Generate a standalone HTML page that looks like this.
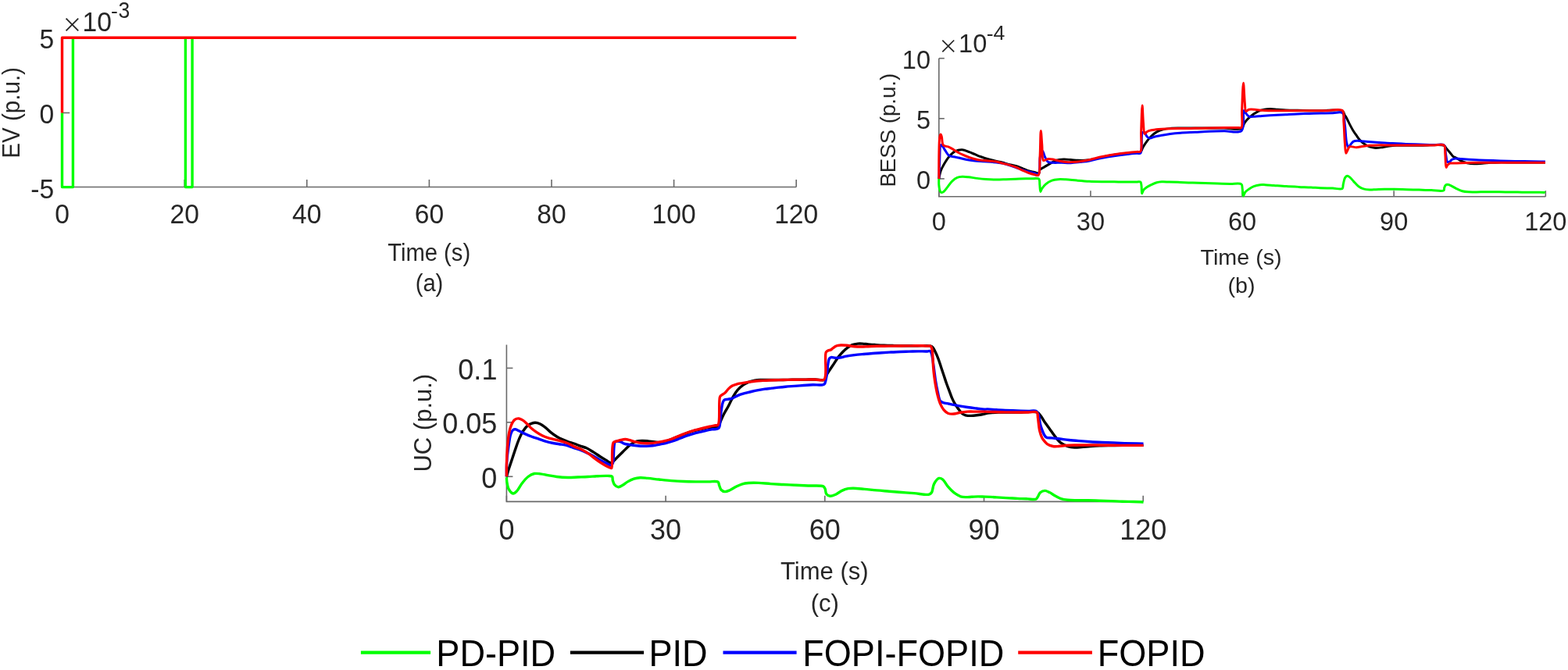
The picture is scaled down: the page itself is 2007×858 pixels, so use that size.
<!DOCTYPE html>
<html><head><meta charset="utf-8"><title>Figure</title>
<style>
html,body{margin:0;padding:0;background:#fff;}
body{width:2007px;height:858px;overflow:hidden;}
svg{display:block;}
</style></head>
<body>
<svg width="2007" height="858" viewBox="0 0 2007 858">
<rect width="2007" height="858" fill="#fff"/>
<g fill="none" stroke="#6a6a6a" stroke-width="1.6" stroke-linecap="butt">
<path d="M79.60 48.30 L79.60 239.55 L1019.20 239.55"/>
<path d="M79.60 239.55 V229.95"/>
<path d="M236.20 239.55 V229.95"/>
<path d="M392.80 239.55 V229.95"/>
<path d="M549.40 239.55 V229.95"/>
<path d="M706.00 239.55 V229.95"/>
<path d="M862.60 239.55 V229.95"/>
<path d="M1019.20 239.55 V229.95"/>
<path d="M79.60 239.60 H89.20"/>
<path d="M79.60 144.50 H89.20"/>
<path d="M79.60 48.30 H89.20"/>
</g>
<path d="M79.5 144.50 V239.60 H93.4 V48.30 M237.4 48.30 V239.60 H246.1 V48.30" fill="none" stroke="#00ff00" stroke-width="3.4" stroke-linejoin="round"/>
<path d="M79.50 144.50 L79.50 48.30 L1019.20 48.30" fill="none" stroke="#ff0000" stroke-width="3.4" stroke-linejoin="round"/>
<g font-family='"Liberation Sans", sans-serif' fill="#262626">
<text transform="translate(79.60 286.30) scale(1 1.045)" font-size="33.60" text-anchor="middle">0</text>
<text transform="translate(236.20 286.30) scale(1 1.045)" font-size="33.60" text-anchor="middle">20</text>
<text transform="translate(392.80 286.30) scale(1 1.045)" font-size="33.60" text-anchor="middle">40</text>
<text transform="translate(549.40 286.30) scale(1 1.045)" font-size="33.60" text-anchor="middle">60</text>
<text transform="translate(706.00 286.30) scale(1 1.045)" font-size="33.60" text-anchor="middle">80</text>
<text transform="translate(862.60 286.30) scale(1 1.045)" font-size="33.60" text-anchor="middle">100</text>
<text transform="translate(1019.20 286.30) scale(1 1.045)" font-size="33.60" text-anchor="middle">120</text>
<text transform="translate(69.20 253.70) scale(1 1.045)" font-size="33.60" text-anchor="end">-5</text>
<text transform="translate(69.20 157.90) scale(1 1.045)" font-size="33.60" text-anchor="end">0</text>
<text transform="translate(69.20 61.90) scale(1 1.045)" font-size="33.60" text-anchor="end">5</text>
<text transform="translate(79.20 41.40)" font-size="26.30" font-family='"Noto Sans CJK JP", "Noto Sans CJK SC", sans-serif'>&#215;</text>
<text transform="translate(105.60 39.90) scale(1 1.045)" font-size="33.60">10</text>
<text transform="translate(142.00 23.10)" font-size="26.50">-</text>
<text transform="translate(151.60 23.10) scale(1 1.130)" font-size="26.50">3</text>
<text transform="translate(549.20 334.00) scale(1 1.050)" font-size="29.20" text-anchor="middle">Time (s)</text>
<text transform="translate(549.50 372.70) scale(1 1.050)" font-size="29.20" text-anchor="middle">(a)</text>
<text transform="translate(24.90 144.40) rotate(-90) scale(1 1.050)" font-size="29.60" text-anchor="middle">EV (p.u.)</text>
</g>
<g fill="none" stroke="#6a6a6a" stroke-width="1.6">
<path d="M1201.80 74.70 L1201.80 251.80 L1978.30 251.80"/>
<path d="M1201.80 251.80 V244.20"/>
<path d="M1395.92 251.80 V244.20"/>
<path d="M1590.05 251.80 V244.20"/>
<path d="M1784.17 251.80 V244.20"/>
<path d="M1978.30 251.80 V244.20"/>
<path d="M1201.80 228.90 H1208.80"/>
<path d="M1201.80 151.80 H1208.80"/>
<path d="M1201.80 74.70 H1208.80"/>
</g>
<path d="M1201.80 228.90 C1201.80 228.83 1201.80 228.70 1201.80 228.70 C1201.80 228.70 1201.59 234.09 1201.80 236.67 C1202.00 239.13 1202.25 242.08 1202.97 243.85 C1203.46 245.04 1204.07 246.31 1204.89 246.56 C1205.67 246.79 1206.77 246.14 1207.76 245.44 C1209.28 244.36 1210.85 241.90 1212.54 239.86 C1214.53 237.45 1216.63 234.04 1218.92 231.89 C1220.92 230.01 1223.06 228.35 1225.29 227.42 C1227.33 226.58 1229.42 226.44 1231.67 226.31 C1234.17 226.17 1236.77 226.49 1239.64 226.79 C1243.06 227.13 1247.08 227.93 1250.80 228.38 C1254.52 228.83 1258.12 229.23 1261.96 229.50 C1266.07 229.78 1270.47 229.95 1274.72 229.97 C1278.97 230.00 1283.22 229.79 1287.47 229.66 C1291.73 229.52 1295.98 229.34 1300.23 229.18 C1304.48 229.02 1309.04 228.77 1312.98 228.70 C1316.40 228.63 1319.59 228.63 1322.55 228.70 C1325.11 228.76 1328.33 227.76 1329.73 229.02 C1331.17 230.33 1330.51 234.03 1330.84 236.67 C1331.20 239.49 1331.14 245.33 1331.80 245.44 C1332.27 245.52 1332.81 242.83 1333.71 241.45 C1334.87 239.68 1336.54 237.53 1338.49 235.87 C1340.69 234.02 1343.71 232.13 1346.47 231.09 C1349.04 230.12 1351.65 229.88 1354.44 229.66 C1357.47 229.41 1360.50 229.63 1364.01 229.82 C1368.31 230.04 1373.44 230.70 1378.35 231.09 C1383.53 231.50 1388.98 231.94 1394.30 232.21 C1399.61 232.47 1404.93 232.58 1410.24 232.68 C1415.56 232.79 1420.87 232.79 1426.19 232.84 C1431.50 232.90 1437.10 232.98 1442.13 233.00 C1446.65 233.03 1451.75 233.00 1455.00 233.00 C1456.98 233.00 1458.77 232.21 1459.78 233.00 C1460.86 233.85 1460.75 236.24 1461.06 238.27 C1461.47 240.97 1461.07 247.72 1461.70 247.83 C1462.16 247.91 1462.75 244.38 1463.77 243.05 C1464.78 241.73 1466.22 240.88 1467.76 239.86 C1469.59 238.64 1471.98 237.37 1474.13 236.35 C1476.23 235.36 1478.35 234.39 1480.51 233.80 C1482.60 233.23 1484.54 233.00 1486.89 232.84 C1489.75 232.66 1492.94 232.92 1496.45 233.00 C1500.75 233.11 1505.89 233.30 1510.80 233.48 C1515.98 233.67 1521.43 233.93 1526.75 234.12 C1532.06 234.31 1537.38 234.44 1542.69 234.60 C1548.01 234.76 1553.32 234.92 1558.64 235.08 C1563.95 235.24 1569.40 235.42 1574.58 235.55 C1579.49 235.68 1586.66 234.03 1588.93 235.87 C1590.36 237.04 1589.84 239.33 1590.20 241.45 C1590.68 244.20 1590.55 250.88 1591.32 251.02 C1591.90 251.12 1592.59 247.66 1593.71 246.24 C1594.93 244.71 1596.73 243.48 1598.49 242.25 C1600.42 240.91 1602.56 239.51 1604.87 238.58 C1607.32 237.61 1610.32 236.97 1612.84 236.67 C1615.07 236.41 1616.80 236.58 1619.22 236.67 C1622.43 236.79 1626.33 237.18 1630.38 237.47 C1635.22 237.81 1641.01 238.27 1646.33 238.58 C1651.64 238.90 1656.96 239.14 1662.27 239.38 C1667.58 239.62 1673.30 239.77 1678.21 240.02 C1682.44 240.23 1685.78 240.58 1690.00 240.75 C1694.88 240.95 1700.86 240.92 1705.80 241.07 C1710.16 241.20 1716.15 243.07 1718.12 241.54 C1719.41 240.53 1718.75 238.28 1719.22 236.33 C1719.84 233.79 1720.38 229.52 1721.59 227.64 C1722.37 226.44 1723.40 225.37 1724.43 225.27 C1725.50 225.17 1726.74 226.25 1727.91 227.17 C1729.47 228.39 1730.93 230.58 1732.65 232.38 C1734.58 234.41 1736.72 237.08 1738.97 238.70 C1740.96 240.14 1743.00 241.15 1745.28 241.86 C1747.71 242.61 1750.54 242.83 1753.18 242.96 C1755.81 243.09 1758.23 242.77 1761.08 242.65 C1764.46 242.51 1768.33 242.23 1772.14 242.17 C1776.21 242.11 1780.33 242.26 1784.77 242.33 C1789.74 242.41 1795.30 242.52 1800.57 242.65 C1805.83 242.78 1811.10 242.96 1816.36 243.12 C1821.63 243.28 1826.89 243.46 1832.16 243.60 C1837.42 243.73 1845.87 245.56 1847.95 243.91 C1848.96 243.11 1848.34 241.42 1848.74 240.28 C1849.14 239.16 1849.57 237.77 1850.32 237.12 C1850.95 236.57 1851.77 236.33 1852.69 236.33 C1854.00 236.33 1855.77 237.18 1857.43 237.91 C1859.42 238.78 1861.49 240.29 1863.75 241.38 C1866.20 242.57 1868.96 243.96 1871.65 244.70 C1874.23 245.41 1876.45 245.59 1879.54 245.81 C1883.90 246.11 1890.07 245.81 1895.34 245.81 C1900.60 245.81 1905.87 245.78 1911.13 245.81 C1916.40 245.83 1921.66 245.91 1926.93 245.96 C1932.19 246.02 1937.46 246.07 1942.72 246.12 C1947.99 246.17 1953.02 246.23 1958.52 246.28 C1964.55 246.34 1975.87 246.01 1977.47 246.44 C1977.72 246.51 1977.74 246.59 1977.88 246.67" fill="none" stroke="#00ff00" stroke-width="3.0" stroke-linejoin="round" stroke-linecap="butt"/>
<path d="M1201.80 228.90 C1202.56 225.58 1202.95 222.12 1204.09 218.94 C1205.23 215.77 1206.91 212.83 1208.64 209.85 C1210.43 206.76 1212.37 203.44 1214.70 200.76 C1216.94 198.16 1219.42 195.46 1222.27 193.94 C1225.00 192.49 1228.35 191.55 1231.36 191.67 C1234.41 191.78 1237.58 193.64 1240.45 194.70 C1243.11 195.67 1245.51 196.72 1248.03 197.73 C1250.56 198.74 1252.95 199.78 1255.61 200.76 C1258.48 201.81 1261.65 202.90 1264.70 203.79 C1267.71 204.67 1270.75 205.35 1273.79 206.06 C1276.81 206.77 1279.86 207.28 1282.88 208.03 C1285.92 208.79 1288.93 209.85 1291.97 210.61 C1294.99 211.36 1298.20 211.70 1301.06 212.58 C1303.74 213.39 1306.11 214.60 1308.64 215.61 C1311.16 216.62 1313.66 217.82 1316.21 218.64 C1318.71 219.43 1321.40 219.87 1323.79 220.45 C1325.92 220.98 1328.66 222.67 1329.85 221.97 C1330.88 221.36 1330.10 218.72 1331.06 217.42 C1332.24 215.83 1334.98 214.95 1337.12 213.64 C1339.50 212.18 1342.14 210.49 1344.70 209.09 C1347.20 207.72 1349.56 206.14 1352.27 205.30 C1355.10 204.44 1358.33 204.22 1361.36 204.09 C1364.39 203.97 1367.43 204.34 1370.45 204.55 C1373.49 204.75 1376.51 205.18 1379.55 205.30 C1382.57 205.43 1385.40 205.50 1388.64 205.30 C1392.39 205.07 1396.52 204.58 1400.76 203.79 C1405.55 202.89 1410.84 201.06 1415.91 200.00 C1420.94 198.95 1426.00 198.11 1431.06 197.42 C1436.10 196.74 1441.29 196.37 1446.21 195.91 C1450.88 195.47 1457.13 196.55 1459.85 194.70 C1461.76 193.39 1461.66 190.75 1462.88 188.64 C1464.31 186.15 1466.21 183.22 1468.05 180.78 C1469.81 178.45 1471.53 176.24 1473.65 174.25 C1475.86 172.18 1478.52 170.08 1481.11 168.66 C1483.50 167.35 1485.90 166.57 1488.57 165.86 C1491.47 165.10 1494.51 164.69 1497.89 164.37 C1501.87 164.00 1506.21 164.07 1510.94 164.00 C1516.61 163.92 1523.38 164.00 1529.59 164.00 C1535.81 164.00 1542.02 164.00 1548.24 164.00 C1554.46 164.00 1560.39 163.94 1566.89 164.00 C1574.01 164.06 1585.17 166.76 1589.27 164.37 C1591.69 162.95 1591.49 159.66 1593.00 157.47 C1594.57 155.18 1596.20 153.11 1598.59 150.94 C1601.73 148.09 1607.05 144.22 1610.76 142.42 C1613.47 141.11 1615.78 140.63 1618.33 140.15 C1620.83 139.68 1623.27 139.56 1625.91 139.55 C1628.80 139.53 1631.85 139.93 1635.00 140.15 C1638.40 140.39 1641.75 140.71 1645.61 140.91 C1650.21 141.14 1655.71 141.24 1660.76 141.36 C1665.81 141.49 1670.86 141.59 1675.91 141.67 C1680.96 141.74 1685.27 141.77 1691.06 141.82 C1698.83 141.88 1713.96 139.31 1718.33 141.97 C1720.47 143.27 1720.53 146.45 1721.36 147.73 C1721.82 148.42 1722.09 148.49 1722.58 149.24 C1723.68 150.97 1725.58 155.38 1727.12 158.33 C1728.61 161.19 1730.09 164.06 1731.67 166.67 C1733.13 169.09 1734.67 171.30 1736.21 173.48 C1737.70 175.59 1739.02 177.68 1740.76 179.55 C1742.55 181.47 1744.70 183.43 1746.82 184.85 C1748.76 186.15 1750.69 187.13 1752.88 187.88 C1755.21 188.68 1757.80 189.24 1760.45 189.39 C1763.34 189.56 1766.52 189.01 1769.55 188.64 C1772.58 188.26 1775.60 187.50 1778.64 187.12 C1781.66 186.74 1784.17 186.53 1787.73 186.36 C1792.74 186.13 1800.12 186.24 1805.91 186.21 C1811.19 186.19 1815.27 186.20 1821.06 186.21 C1828.83 186.23 1843.95 184.24 1848.33 186.36 C1850.18 187.26 1850.24 188.79 1851.36 190.15 C1852.71 191.78 1854.39 193.69 1855.91 195.45 C1857.42 197.22 1859.08 199.83 1860.45 200.76 C1861.26 201.30 1861.78 201.08 1862.73 201.52 C1864.55 202.35 1867.72 204.83 1870.30 206.06 C1872.77 207.23 1875.20 208.16 1877.88 208.79 C1880.73 209.46 1883.82 209.76 1886.97 209.85 C1890.36 209.95 1894.04 209.49 1897.58 209.24 C1901.11 208.99 1904.64 208.56 1908.18 208.33 C1911.71 208.11 1914.71 207.95 1918.79 207.88 C1924.34 207.78 1930.79 208.00 1938.48 208.03 C1949.36 208.07 1964.75 208.03 1977.88 208.03" fill="none" stroke="#000000" stroke-width="3.0" stroke-linejoin="round" stroke-linecap="butt"/>
<path d="M1201.80 228.90 C1202.06 222.55 1202.19 216.58 1202.58 209.85 C1203.02 202.25 1202.69 186.37 1204.39 185.61 C1204.94 185.36 1205.67 186.36 1206.36 187.12 C1207.53 188.41 1208.79 191.19 1210.15 193.18 C1211.56 195.23 1212.81 197.99 1214.70 199.24 C1216.41 200.38 1218.62 200.28 1220.76 200.76 C1223.14 201.29 1225.70 201.68 1228.33 202.27 C1231.23 202.92 1234.26 203.93 1237.42 204.55 C1240.81 205.21 1244.49 205.68 1248.03 206.06 C1251.56 206.44 1254.98 206.57 1258.64 206.82 C1262.54 207.08 1266.72 207.20 1270.76 207.58 C1274.80 207.95 1279.00 208.30 1282.88 209.09 C1286.56 209.84 1289.97 210.99 1293.48 212.12 C1297.04 213.26 1300.69 214.73 1304.09 215.91 C1307.23 216.99 1310.13 218.05 1313.18 218.94 C1316.20 219.82 1319.46 220.55 1322.27 221.21 C1324.70 221.79 1327.48 223.89 1329.09 222.73 C1331.95 220.67 1330.04 206.11 1331.36 200.76 C1332.17 197.50 1333.38 193.18 1334.39 193.18 C1335.40 193.18 1336.21 198.35 1337.42 200.76 C1338.63 203.15 1339.77 206.36 1341.67 207.58 C1343.32 208.63 1345.42 208.19 1347.73 208.33 C1350.77 208.52 1354.68 208.29 1358.33 208.33 C1362.24 208.38 1366.42 208.76 1370.45 208.64 C1374.50 208.51 1378.54 208.00 1382.58 207.58 C1386.62 207.15 1390.68 206.81 1394.70 206.06 C1398.76 205.30 1402.76 203.92 1406.82 203.03 C1410.85 202.15 1414.89 201.44 1418.94 200.76 C1422.97 200.08 1427.02 199.50 1431.06 198.94 C1435.10 198.38 1439.14 197.88 1443.18 197.42 C1447.22 196.97 1452.23 196.37 1455.30 196.21 C1457.18 196.12 1458.69 197.28 1459.85 196.21 C1462.62 193.68 1460.18 173.73 1462.12 170.45 C1462.75 169.39 1463.63 168.77 1464.39 168.94 C1465.63 169.21 1466.74 173.62 1468.18 175.00 C1469.28 176.05 1470.42 176.92 1471.78 177.05 C1473.41 177.21 1475.26 175.75 1477.38 175.19 C1480.07 174.47 1483.45 173.92 1486.70 173.32 C1490.26 172.67 1494.01 171.97 1497.89 171.46 C1502.07 170.90 1506.20 170.51 1510.94 170.15 C1516.60 169.73 1523.38 169.53 1529.59 169.22 C1535.81 168.91 1542.02 168.54 1548.24 168.29 C1554.45 168.04 1560.39 167.88 1566.89 167.73 C1574.01 167.56 1584.98 171.26 1589.27 167.35 C1593.87 163.15 1590.24 142.12 1592.06 141.62 C1592.84 141.41 1593.81 144.14 1594.86 145.35 C1595.97 146.63 1596.95 148.38 1598.59 149.08 C1600.56 149.92 1603.56 149.32 1606.21 149.24 C1609.11 149.15 1611.89 148.75 1615.30 148.48 C1619.71 148.15 1625.40 147.73 1630.45 147.42 C1635.50 147.12 1640.56 146.92 1645.61 146.67 C1650.66 146.41 1655.71 146.11 1660.76 145.91 C1665.81 145.71 1670.86 145.61 1675.91 145.45 C1680.96 145.30 1686.01 145.13 1691.06 145.00 C1696.11 144.87 1701.44 144.74 1706.21 144.70 C1710.48 144.65 1715.77 142.60 1718.33 144.70 C1721.23 147.07 1720.53 154.27 1721.36 159.85 C1722.38 166.64 1722.44 177.47 1723.64 182.58 C1724.27 185.30 1724.93 188.48 1725.91 188.64 C1726.75 188.77 1727.87 186.09 1728.94 184.85 C1730.04 183.57 1730.98 181.82 1732.42 181.06 C1733.90 180.29 1735.80 180.34 1737.73 180.30 C1740.03 180.25 1742.66 180.82 1745.30 181.06 C1748.19 181.33 1751.25 181.57 1754.39 181.82 C1757.79 182.08 1761.46 182.32 1765.00 182.58 C1768.54 182.83 1771.95 183.13 1775.61 183.33 C1779.51 183.55 1783.69 183.61 1787.73 183.79 C1791.77 183.96 1795.81 184.22 1799.85 184.39 C1803.89 184.57 1807.93 184.72 1811.97 184.85 C1816.01 184.97 1820.05 185.03 1824.09 185.15 C1828.13 185.28 1832.17 185.48 1836.21 185.61 C1840.25 185.73 1845.94 183.88 1848.33 185.91 C1850.72 187.93 1849.81 193.97 1850.61 197.73 C1851.33 201.17 1851.44 206.69 1852.88 207.58 C1853.68 208.07 1855.03 207.32 1855.91 206.82 C1856.80 206.31 1857.21 205.15 1858.18 204.55 C1859.37 203.81 1860.99 203.26 1862.73 203.03 C1864.91 202.74 1867.35 203.29 1870.30 203.48 C1874.49 203.76 1880.40 204.24 1885.45 204.55 C1890.50 204.85 1895.55 205.10 1900.61 205.30 C1905.66 205.50 1910.71 205.61 1915.76 205.76 C1920.81 205.91 1925.86 206.09 1930.91 206.21 C1935.96 206.34 1941.01 206.41 1946.06 206.52 C1951.11 206.62 1956.04 206.72 1961.21 206.82 C1966.64 206.92 1972.32 207.02 1977.88 207.12" fill="none" stroke="#0000ff" stroke-width="3.0" stroke-linejoin="round" stroke-linecap="butt"/>
<path d="M1201.80 228.90 C1201.81 219.52 1201.63 209.93 1201.82 200.76 C1202.00 191.98 1201.95 179.35 1202.88 175.00 C1203.21 173.45 1203.69 171.97 1204.09 171.97 C1204.49 171.97 1204.92 173.66 1205.30 175.00 C1205.99 177.44 1205.75 183.76 1207.12 185.61 C1207.89 186.64 1209.01 186.69 1210.15 187.12 C1211.49 187.63 1213.11 187.70 1214.70 188.33 C1216.62 189.10 1218.75 190.49 1220.76 191.67 C1222.79 192.86 1224.77 194.31 1226.82 195.45 C1228.81 196.57 1230.72 197.52 1232.88 198.48 C1235.24 199.55 1237.91 200.63 1240.45 201.52 C1242.96 202.39 1245.49 203.15 1248.03 203.79 C1250.54 204.41 1252.95 204.93 1255.61 205.30 C1258.49 205.71 1261.67 205.81 1264.70 206.06 C1267.73 206.31 1270.78 206.32 1273.79 206.82 C1276.84 207.32 1279.85 208.33 1282.88 209.09 C1285.91 209.85 1288.96 210.49 1291.97 211.36 C1295.02 212.25 1298.21 213.21 1301.06 214.39 C1303.74 215.50 1306.09 217.04 1308.64 218.18 C1311.14 219.31 1313.67 220.32 1316.21 221.21 C1318.72 222.09 1321.47 222.97 1323.79 223.48 C1325.70 223.90 1327.79 225.28 1329.09 224.24 C1331.81 222.07 1330.55 209.28 1331.06 200.76 C1331.67 190.62 1331.71 167.44 1332.27 167.42 C1332.69 167.41 1333.29 179.42 1333.79 185.61 C1334.30 192.04 1333.65 203.77 1335.30 205.30 C1335.80 205.77 1336.40 205.44 1337.12 205.30 C1338.31 205.07 1340.01 203.72 1341.67 203.48 C1343.51 203.22 1345.61 203.71 1347.73 204.09 C1350.13 204.52 1352.65 205.50 1355.30 206.06 C1358.18 206.67 1361.35 207.32 1364.39 207.58 C1367.41 207.83 1370.46 207.70 1373.48 207.58 C1376.52 207.45 1379.55 207.20 1382.58 206.82 C1385.61 206.44 1388.65 205.93 1391.67 205.30 C1394.71 204.67 1397.73 203.79 1400.76 203.03 C1403.79 202.27 1406.81 201.44 1409.85 200.76 C1412.87 200.08 1415.90 199.50 1418.94 198.94 C1421.97 198.38 1425.00 197.88 1428.03 197.42 C1431.06 196.97 1434.09 196.59 1437.12 196.21 C1440.15 195.83 1443.18 195.45 1446.21 195.15 C1449.24 194.85 1452.79 194.62 1455.30 194.39 C1457.08 194.23 1458.76 195.11 1459.85 193.94 C1462.37 191.24 1460.27 178.41 1460.59 169.59 C1460.98 159.09 1461.56 135.10 1462.09 135.09 C1462.50 135.09 1462.79 150.05 1463.39 156.54 C1463.90 161.97 1463.84 170.97 1465.26 171.46 C1465.98 171.71 1466.85 169.40 1468.05 168.66 C1469.52 167.75 1471.52 167.29 1473.65 166.79 C1476.34 166.16 1479.86 165.80 1482.97 165.49 C1486.07 165.18 1488.65 165.08 1492.30 164.93 C1497.44 164.72 1504.73 164.65 1510.94 164.56 C1517.16 164.46 1523.38 164.46 1529.59 164.37 C1535.81 164.28 1542.02 164.12 1548.24 164.00 C1554.46 163.87 1560.67 163.72 1566.89 163.62 C1573.10 163.53 1581.83 163.46 1585.54 163.44 C1587.11 163.43 1588.06 164.24 1588.89 163.44 C1591.01 161.39 1589.29 149.77 1589.64 141.62 C1590.09 131.23 1590.83 106.20 1591.50 106.19 C1592.08 106.18 1592.64 125.60 1593.37 132.30 C1593.82 136.51 1593.50 141.91 1594.86 142.55 C1595.74 142.97 1597.00 140.74 1598.59 140.31 C1600.90 139.69 1604.83 140.26 1607.73 140.45 C1610.38 140.63 1612.66 141.16 1615.30 141.36 C1618.19 141.58 1621.06 141.61 1624.39 141.67 C1628.48 141.73 1633.37 141.67 1638.03 141.67 C1642.95 141.67 1648.13 141.67 1653.18 141.67 C1658.23 141.67 1663.28 141.67 1668.33 141.67 C1673.38 141.67 1678.43 141.67 1683.48 141.67 C1688.54 141.67 1693.26 141.67 1698.64 141.67 C1704.77 141.67 1715.02 138.70 1718.33 141.67 C1721.10 144.14 1719.40 149.97 1719.85 155.30 C1720.48 162.83 1720.74 175.05 1721.36 182.58 C1721.81 187.91 1721.91 196.04 1722.88 196.21 C1723.47 196.32 1724.37 193.10 1725.15 191.67 C1725.88 190.33 1726.12 188.54 1727.42 187.88 C1729.27 186.94 1733.40 188.74 1736.21 188.64 C1738.84 188.54 1741.14 187.79 1743.79 187.42 C1746.68 187.02 1749.73 186.61 1752.88 186.36 C1756.27 186.09 1759.83 185.99 1763.48 185.91 C1767.39 185.83 1771.34 185.89 1775.61 185.91 C1780.38 185.93 1785.71 186.04 1790.76 186.06 C1795.81 186.09 1800.86 186.06 1805.91 186.06 C1810.96 186.06 1816.01 186.06 1821.06 186.06 C1826.11 186.06 1831.44 186.06 1836.21 186.06 C1840.48 186.06 1846.07 184.07 1848.33 186.06 C1850.56 188.02 1849.42 193.49 1849.85 197.73 C1850.36 202.78 1850.03 214.15 1851.06 214.39 C1851.53 214.51 1852.09 212.24 1852.88 211.36 C1853.69 210.46 1854.77 209.47 1855.91 209.09 C1857.05 208.71 1858.12 209.12 1859.70 209.09 C1862.34 209.03 1866.45 208.76 1870.30 208.64 C1874.90 208.49 1880.40 208.38 1885.45 208.33 C1890.50 208.28 1895.56 208.33 1900.61 208.33 C1905.66 208.33 1910.71 208.33 1915.76 208.33 C1920.81 208.33 1925.86 208.33 1930.91 208.33 C1935.96 208.33 1941.01 208.33 1946.06 208.33 C1951.11 208.33 1956.04 208.33 1961.21 208.33 C1966.64 208.33 1972.32 208.33 1977.88 208.33" fill="none" stroke="#ff0000" stroke-width="3.0" stroke-linejoin="round" stroke-linecap="butt"/>
<g font-family='"Liberation Sans", sans-serif' fill="#262626">
<text transform="translate(1201.80 294.70) scale(1 1.030)" font-size="32.50" text-anchor="middle">0</text>
<text transform="translate(1395.92 294.70) scale(1 1.030)" font-size="32.50" text-anchor="middle">30</text>
<text transform="translate(1590.05 294.70) scale(1 1.030)" font-size="32.50" text-anchor="middle">60</text>
<text transform="translate(1784.17 294.70) scale(1 1.030)" font-size="32.50" text-anchor="middle">90</text>
<text transform="translate(1978.30 294.70) scale(1 1.030)" font-size="32.50" text-anchor="middle">120</text>
<text transform="translate(1191.00 242.10) scale(1 1.030)" font-size="32.50" text-anchor="end">0</text>
<text transform="translate(1191.00 165.00) scale(1 1.030)" font-size="32.50" text-anchor="end">5</text>
<text transform="translate(1191.00 87.90) scale(1 1.030)" font-size="32.50" text-anchor="end">10</text>
<text transform="translate(1201.30 68.00)" font-size="25.00" font-family='"Noto Sans CJK JP", "Noto Sans CJK SC", sans-serif'>&#215;</text>
<text transform="translate(1227.10 66.70) scale(1 1.030)" font-size="32.50">10</text>
<text transform="translate(1262.70 52.30)" font-size="26.60">-</text>
<text transform="translate(1271.56 51.40)" font-size="26.60">4</text>
<text transform="translate(1588.60 338.70) scale(1 0.980)" font-size="28.70" text-anchor="middle">Time (s)</text>
<text transform="translate(1589.10 374.80) scale(1 0.980)" font-size="28.70" text-anchor="middle">(b)</text>
<text transform="translate(1145.50 166.70) rotate(-90)" font-size="27.60" text-anchor="middle">BESS (p.u.)</text>
</g>
<g fill="none" stroke="#6a6a6a" stroke-width="1.6">
<path d="M648.40 441.40 L648.40 642.40 L1463.20 642.40"/>
<path d="M648.40 642.40 V634.80"/>
<path d="M852.10 642.40 V634.80"/>
<path d="M1055.80 642.40 V634.80"/>
<path d="M1259.50 642.40 V634.80"/>
<path d="M1463.20 642.40 V634.80"/>
<path d="M648.40 610.30 H656.40"/>
<path d="M648.40 540.85 H656.40"/>
<path d="M648.40 471.40 H656.40"/>
</g>
<path d="M648.40 610.30 C648.40 610.26 648.40 610.19 648.40 610.19 C648.41 610.19 648.42 614.48 648.78 616.89 C649.23 619.81 649.70 623.85 651.17 626.45 C652.49 628.78 654.89 631.85 656.76 632.03 C658.35 632.19 659.98 630.40 661.54 628.85 C663.74 626.64 665.55 622.31 667.92 619.28 C670.32 616.20 673.01 612.69 675.89 610.51 C678.38 608.62 681.12 607.11 683.86 606.52 C686.45 605.97 689.06 606.54 691.83 606.84 C694.89 607.18 698.08 608.01 701.40 608.60 C704.97 609.23 708.59 610.04 712.56 610.51 C717.03 611.04 722.26 611.40 726.91 611.47 C731.28 611.53 735.41 611.15 739.66 610.99 C743.91 610.83 748.17 610.72 752.42 610.51 C756.67 610.30 760.92 609.90 765.17 609.71 C769.42 609.53 774.55 609.20 777.93 609.39 C780.17 609.53 782.46 609.15 783.51 610.19 C784.52 611.18 783.82 613.59 784.31 615.29 C784.84 617.15 785.46 619.45 786.70 620.87 C787.89 622.23 789.79 623.63 791.48 623.74 C793.24 623.86 795.19 622.39 797.06 621.35 C799.18 620.17 801.13 618.21 803.44 616.89 C805.89 615.48 808.70 614.07 811.41 613.22 C814.02 612.40 816.59 611.94 819.38 611.79 C822.42 611.62 825.44 612.11 828.95 612.42 C833.25 612.81 838.39 613.50 843.30 614.02 C848.47 614.56 853.92 615.19 859.24 615.61 C864.55 616.04 869.87 616.36 875.19 616.57 C880.50 616.78 885.82 616.83 891.13 616.89 C896.44 616.94 902.14 616.82 907.07 616.89 C911.35 616.94 916.97 615.71 919.03 617.21 C920.33 618.15 920.01 620.11 920.63 621.67 C921.32 623.44 921.76 625.91 923.02 627.25 C924.20 628.51 926.06 629.49 927.80 629.64 C929.74 629.81 931.99 628.66 934.18 627.73 C936.75 626.64 939.46 624.61 942.15 623.27 C944.78 621.96 947.41 620.56 950.12 619.76 C952.73 618.99 955.12 618.73 958.09 618.48 C961.83 618.17 966.33 618.21 970.80 618.37 C975.82 618.55 981.43 619.30 986.75 619.64 C992.06 619.99 997.38 620.17 1002.69 620.44 C1008.01 620.71 1013.32 620.97 1018.64 621.24 C1023.95 621.50 1029.02 621.78 1034.58 622.03 C1040.67 622.31 1050.51 621.15 1053.71 622.83 C1055.17 623.60 1055.47 624.70 1056.10 626.02 C1056.91 627.72 1056.54 630.84 1057.70 632.40 C1058.76 633.83 1060.67 635.03 1062.48 635.27 C1064.58 635.54 1067.27 634.23 1069.66 633.20 C1072.32 632.04 1074.90 629.68 1077.63 628.41 C1080.22 627.21 1083.06 626.22 1085.60 625.70 C1087.81 625.25 1089.43 625.22 1091.98 625.22 C1095.80 625.23 1101.42 625.90 1106.33 626.34 C1111.50 626.80 1116.95 627.46 1122.27 627.93 C1127.58 628.41 1132.90 628.78 1138.21 629.21 C1143.53 629.63 1148.84 630.09 1154.16 630.48 C1159.47 630.88 1164.55 631.17 1170.10 631.60 C1176.19 632.07 1185.64 634.23 1189.23 633.20 C1190.87 632.72 1191.52 632.11 1192.42 630.80 C1193.96 628.57 1193.88 622.79 1195.61 619.64 C1197.19 616.78 1199.82 613.05 1201.99 612.47 C1203.56 612.05 1205.24 612.94 1206.77 614.06 C1209.03 615.71 1210.79 620.07 1213.15 622.83 C1215.56 625.65 1218.50 628.71 1221.12 630.80 C1223.27 632.51 1225.98 633.90 1227.50 634.79 C1228.33 635.27 1228.57 635.57 1229.44 635.85 C1230.92 636.33 1233.57 636.57 1235.82 636.65 C1238.33 636.74 1241.14 636.38 1243.80 636.25 C1246.45 636.12 1249.11 635.88 1251.77 635.85 C1254.43 635.83 1257.09 636.00 1259.74 636.09 C1262.40 636.19 1265.06 636.28 1267.72 636.41 C1270.38 636.54 1273.04 636.73 1275.69 636.89 C1278.35 637.05 1281.01 637.21 1283.67 637.37 C1286.33 637.53 1288.98 637.70 1291.64 637.85 C1294.30 637.99 1296.96 638.11 1299.62 638.25 C1302.28 638.38 1304.93 638.54 1307.59 638.64 C1310.25 638.75 1312.73 638.80 1315.57 638.88 C1318.80 638.98 1323.81 640.17 1325.93 639.20 C1327.22 638.61 1327.52 637.43 1328.33 636.25 C1329.37 634.72 1329.99 631.99 1331.52 630.67 C1333.04 629.36 1335.51 628.37 1337.49 628.36 C1339.44 628.35 1341.31 629.58 1343.32 630.55 C1345.66 631.68 1348.15 633.57 1350.60 634.92 C1353.00 636.24 1355.28 637.67 1357.89 638.56 C1360.61 639.50 1363.49 639.94 1366.63 640.31 C1370.22 640.73 1374.18 640.67 1378.29 640.75 C1382.87 640.83 1388.00 640.67 1392.86 640.75 C1397.72 640.82 1402.57 641.04 1407.43 641.18 C1412.29 641.33 1417.15 641.45 1422.00 641.62 C1426.86 641.79 1431.72 642.06 1436.58 642.20 C1441.43 642.35 1446.49 642.37 1451.15 642.50 C1455.44 642.61 1459.40 642.79 1463.53 642.93" fill="none" stroke="#00ff00" stroke-width="3.4" stroke-linejoin="round"/>
<path d="M648.40 610.30 C649.49 606.64 650.46 603.13 651.66 599.32 C652.98 595.13 654.57 590.57 656.03 586.20 C657.49 581.83 658.90 577.32 660.40 573.09 C661.82 569.07 663.22 565.00 664.77 561.43 C666.15 558.27 667.42 555.38 669.14 552.69 C670.83 550.05 672.84 547.20 674.97 545.40 C676.78 543.88 678.95 542.87 680.80 542.19 C682.32 541.64 683.62 541.28 685.17 541.32 C686.98 541.36 689.03 541.91 691.00 542.78 C693.38 543.82 695.93 545.76 698.29 547.59 C700.79 549.52 703.08 552.16 705.57 554.14 C707.95 556.03 710.38 557.76 712.86 559.24 C715.24 560.66 717.69 561.79 720.15 562.89 C722.55 563.97 724.98 564.95 727.43 565.80 C729.84 566.64 732.31 567.15 734.72 567.99 C737.17 568.84 739.45 569.97 742.00 570.90 C744.77 571.92 747.90 572.53 750.75 573.82 C753.73 575.17 756.60 577.11 759.49 578.92 C762.43 580.75 765.43 582.97 768.23 584.74 C770.75 586.34 773.14 587.74 775.52 589.12 C777.75 590.41 780.46 592.78 782.08 592.76 C783.04 592.75 783.48 592.09 784.37 591.40 C785.93 590.19 788.26 587.52 790.20 585.57 C792.14 583.63 794.09 581.69 796.03 579.74 C797.97 577.80 799.88 575.76 801.86 573.92 C803.77 572.13 805.53 570.26 807.69 568.82 C809.89 567.33 812.48 565.90 814.97 565.17 C817.34 564.49 819.83 564.49 822.26 564.44 C824.69 564.40 827.01 564.66 829.54 564.88 C832.33 565.13 835.50 565.66 838.29 565.90 C840.82 566.13 843.16 566.51 845.57 566.34 C848.01 566.17 850.46 565.55 852.86 564.88 C855.31 564.20 857.73 563.18 860.15 562.26 C862.58 561.33 865.00 560.32 867.43 559.34 C869.86 558.37 872.29 557.40 874.72 556.43 C877.15 555.46 879.56 554.37 882.00 553.52 C884.41 552.67 886.85 551.94 889.29 551.33 C891.70 550.73 894.15 550.43 896.58 549.87 C899.01 549.31 901.42 548.47 903.86 547.98 C906.28 547.50 908.61 547.35 911.15 546.96 C913.93 546.53 918.49 546.64 919.89 545.50 C920.65 544.88 920.36 544.19 920.83 543.06 C921.92 540.42 924.61 533.99 926.66 529.95 C928.51 526.28 930.59 523.29 932.49 519.74 C934.48 516.02 936.26 511.64 938.32 508.09 C940.16 504.90 941.91 501.93 944.14 499.34 C946.30 496.85 948.88 494.53 951.43 492.79 C953.76 491.20 956.24 490.07 958.72 489.14 C961.10 488.25 963.56 487.69 966.00 487.25 C968.41 486.82 970.57 486.66 973.29 486.52 C976.72 486.35 981.06 486.52 984.95 486.52 C988.83 486.52 992.72 486.55 996.60 486.52 C1000.49 486.50 1004.37 486.42 1008.26 486.38 C1012.15 486.33 1016.03 486.28 1019.92 486.23 C1023.80 486.18 1027.69 486.13 1031.58 486.08 C1035.46 486.04 1039.23 485.92 1043.23 485.94 C1047.48 485.96 1054.38 487.80 1056.35 486.23 C1057.52 485.29 1056.64 483.28 1057.29 481.63 C1058.15 479.41 1060.06 476.86 1061.66 474.34 C1063.43 471.54 1065.54 468.52 1067.49 465.60 C1069.43 462.69 1071.28 459.50 1073.32 456.86 C1075.18 454.44 1077.14 452.29 1079.14 450.30 C1081.03 448.43 1082.97 446.69 1084.97 445.20 C1086.86 443.80 1088.67 442.41 1090.80 441.56 C1093.02 440.68 1095.78 440.33 1098.09 440.10 C1100.13 439.90 1101.87 440.00 1103.92 440.10 C1106.21 440.21 1108.66 440.60 1111.20 440.83 C1113.98 441.08 1116.82 441.33 1119.95 441.56 C1123.55 441.82 1127.60 442.12 1131.60 442.29 C1135.84 442.47 1140.23 442.51 1144.72 442.58 C1149.45 442.65 1154.43 442.70 1159.29 442.72 C1164.15 442.75 1168.80 442.66 1173.86 442.72 C1179.36 442.79 1187.80 442.21 1191.08 443.16 C1192.54 443.59 1193.09 443.97 1193.99 444.91 C1195.31 446.29 1196.38 449.03 1197.49 451.33 C1198.72 453.86 1199.88 456.57 1200.99 459.49 C1202.23 462.74 1203.32 466.49 1204.49 469.99 C1205.66 473.48 1206.82 476.98 1207.99 480.48 C1209.15 483.98 1210.29 487.59 1211.49 490.98 C1212.62 494.19 1213.82 497.20 1214.99 500.31 C1216.15 503.42 1217.24 506.78 1218.48 509.64 C1219.59 512.17 1220.65 514.34 1221.98 516.63 C1223.36 519.01 1225.04 521.44 1226.65 523.63 C1228.16 525.70 1229.59 528.07 1231.31 529.46 C1232.75 530.62 1234.21 531.30 1235.98 531.79 C1238.03 532.37 1240.64 532.38 1242.97 532.38 C1245.31 532.38 1247.44 532.12 1249.97 531.79 C1253.02 531.40 1258.55 530.44 1260.00 530.04 C1260.41 529.93 1260.37 529.85 1260.77 529.74 C1262.10 529.41 1266.60 528.87 1269.52 528.58 C1272.43 528.29 1274.97 528.11 1278.26 528.00 C1282.50 527.86 1287.98 528.00 1292.83 528.00 C1297.69 528.00 1302.14 528.00 1307.40 528.00 C1313.63 528.00 1323.70 526.22 1327.81 528.00 C1330.11 528.99 1330.84 530.93 1332.18 532.66 C1333.60 534.49 1334.51 536.48 1336.03 538.74 C1338.04 541.73 1340.89 545.54 1343.32 548.94 C1345.74 552.34 1348.08 556.02 1350.60 559.14 C1352.95 562.05 1355.13 565.07 1357.89 567.16 C1360.51 569.14 1363.64 570.56 1366.63 571.53 C1369.48 572.46 1372.45 572.82 1375.37 572.99 C1378.28 573.15 1381.00 572.76 1384.12 572.55 C1387.73 572.30 1391.89 571.82 1395.77 571.53 C1399.66 571.24 1403.33 570.97 1407.43 570.80 C1412.02 570.61 1417.15 570.58 1422.00 570.51 C1426.86 570.44 1430.98 570.39 1436.58 570.36 C1444.19 570.33 1454.55 570.36 1463.53 570.36" fill="none" stroke="#000000" stroke-width="3.4" stroke-linejoin="round"/>
<path d="M648.40 610.30 C648.51 603.72 648.31 597.07 648.74 590.57 C649.17 584.18 650.03 577.67 650.93 571.63 C651.76 566.05 652.47 559.37 653.84 555.60 C654.67 553.34 655.56 551.41 656.76 550.50 C657.61 549.85 658.58 549.68 659.67 549.77 C661.15 549.89 662.93 551.11 664.77 551.96 C667.00 552.99 669.50 554.43 672.06 555.60 C674.82 556.86 677.87 558.15 680.80 559.24 C683.70 560.33 686.63 561.19 689.54 562.16 C692.46 563.13 695.36 564.22 698.29 565.07 C701.19 565.92 704.10 566.65 707.03 567.26 C709.93 567.86 712.86 568.23 715.77 568.72 C718.69 569.20 721.63 569.46 724.52 570.17 C727.46 570.90 730.35 572.12 733.26 573.09 C736.17 574.06 739.11 574.92 742.00 576.00 C744.94 577.10 747.86 578.32 750.75 579.64 C753.68 580.99 756.60 582.45 759.49 584.02 C762.43 585.61 765.43 587.60 768.23 589.12 C770.75 590.48 773.14 591.64 775.52 592.76 C777.75 593.81 780.54 595.96 782.08 595.67 C783.08 595.49 783.63 594.80 784.26 593.49 C786.15 589.55 784.81 568.73 787.29 565.90 C788.10 564.97 789.13 565.22 790.20 565.17 C791.51 565.12 793.15 565.44 794.57 565.90 C796.07 566.39 797.26 567.51 798.94 568.09 C801.02 568.80 803.68 569.12 806.23 569.54 C809.00 570.01 812.05 570.42 814.97 570.71 C817.88 571.00 820.93 571.26 823.72 571.29 C826.25 571.33 828.58 571.17 831.00 571.00 C833.43 570.83 835.87 570.64 838.29 570.27 C840.73 569.91 843.15 569.30 845.57 568.82 C848.00 568.33 850.45 567.96 852.86 567.36 C855.30 566.75 857.73 565.97 860.15 565.17 C862.59 564.37 865.01 563.47 867.43 562.55 C869.87 561.62 872.28 560.54 874.72 559.64 C877.13 558.74 879.57 557.94 882.00 557.16 C884.43 556.38 886.85 555.63 889.29 554.97 C891.71 554.32 894.15 553.83 896.58 553.22 C899.01 552.62 901.42 551.89 903.86 551.33 C906.28 550.77 908.60 550.34 911.15 549.87 C913.93 549.36 917.97 550.36 919.89 548.42 C922.45 545.82 921.51 537.96 922.29 532.86 C923.04 527.92 923.51 522.01 924.47 518.29 C925.10 515.87 925.40 513.60 926.66 512.46 C927.73 511.49 929.46 511.64 931.03 511.29 C932.82 510.90 934.86 510.93 936.86 510.27 C939.21 509.50 941.56 507.70 944.14 506.63 C946.89 505.49 949.96 504.57 952.89 503.72 C955.79 502.87 958.71 502.21 961.63 501.53 C964.54 500.85 967.45 500.20 970.37 499.64 C973.28 499.08 976.20 498.59 979.12 498.18 C982.03 497.77 984.95 497.50 987.86 497.16 C990.77 496.82 993.69 496.45 996.60 496.14 C999.52 495.82 1002.22 495.54 1005.35 495.26 C1008.95 494.95 1013.12 494.68 1017.00 494.39 C1020.89 494.10 1024.77 493.78 1028.66 493.52 C1032.55 493.25 1036.22 493.02 1040.32 492.79 C1044.90 492.53 1052.30 493.95 1054.89 492.06 C1056.59 490.82 1056.45 488.65 1057.08 486.23 C1058.04 482.50 1058.93 474.74 1059.26 471.66 C1059.42 470.23 1059.28 469.83 1059.47 468.52 C1059.81 466.20 1060.49 460.74 1061.66 459.04 C1062.27 458.16 1062.91 457.80 1063.84 457.59 C1065.15 457.29 1067.18 458.23 1068.94 458.32 C1070.82 458.40 1072.65 458.31 1074.77 458.02 C1077.41 457.68 1080.48 456.67 1083.52 456.13 C1086.77 455.54 1090.20 455.10 1093.72 454.67 C1097.47 454.22 1101.49 453.87 1105.37 453.51 C1109.26 453.14 1113.14 452.78 1117.03 452.49 C1120.92 452.20 1124.80 452.00 1128.69 451.76 C1132.57 451.51 1136.46 451.25 1140.35 451.03 C1144.23 450.81 1148.12 450.59 1152.00 450.45 C1155.89 450.30 1159.78 450.25 1163.66 450.15 C1167.55 450.06 1171.43 449.90 1175.32 449.86 C1179.21 449.83 1184.25 450.06 1187.00 449.93 C1188.51 449.86 1189.62 449.14 1190.50 449.58 C1191.36 450.01 1191.71 451.04 1192.24 452.49 C1193.47 455.81 1194.28 464.15 1195.16 469.99 C1196.03 475.81 1196.58 481.87 1197.49 487.48 C1198.35 492.73 1199.34 498.07 1200.41 502.64 C1201.31 506.48 1201.79 511.02 1203.32 513.13 C1204.27 514.45 1205.34 514.84 1206.82 515.47 C1208.91 516.35 1212.02 516.60 1214.99 517.22 C1218.52 517.95 1222.75 518.83 1226.65 519.55 C1230.53 520.27 1234.42 520.95 1238.31 521.53 C1242.19 522.11 1246.23 522.59 1249.97 523.05 C1253.44 523.47 1257.47 524.17 1260.00 524.21 C1261.53 524.24 1262.11 523.92 1263.69 523.92 C1266.49 523.91 1271.46 524.55 1275.35 524.79 C1279.23 525.03 1282.90 525.19 1287.00 525.37 C1291.59 525.58 1296.72 525.79 1301.58 525.96 C1306.43 526.13 1311.72 526.30 1316.15 526.39 C1319.85 526.48 1324.15 525.30 1326.35 526.54 C1327.96 527.45 1328.43 529.12 1329.26 531.20 C1330.62 534.63 1330.60 541.05 1332.18 545.77 C1333.79 550.62 1335.93 557.67 1338.94 559.87 C1341.01 561.39 1343.59 560.56 1346.23 560.89 C1349.34 561.29 1352.92 561.64 1356.43 562.06 C1360.19 562.51 1364.08 563.09 1368.09 563.52 C1372.33 563.97 1376.71 564.32 1381.20 564.68 C1385.93 565.06 1390.92 565.41 1395.77 565.70 C1400.63 565.99 1405.49 566.21 1410.35 566.43 C1415.20 566.65 1420.06 566.82 1424.92 567.01 C1429.78 567.21 1434.03 567.42 1439.49 567.60 C1446.51 567.82 1455.52 567.98 1463.53 568.18" fill="none" stroke="#0000ff" stroke-width="3.4" stroke-linejoin="round"/>
<path d="M648.40 610.30 C648.40 605.18 648.26 600.51 648.40 594.95 C648.56 588.30 648.90 580.10 649.47 573.09 C650.01 566.54 650.60 559.45 651.66 554.14 C652.45 550.18 653.21 546.88 654.57 543.94 C655.74 541.41 657.15 538.70 658.94 537.39 C660.42 536.31 662.36 535.82 664.04 535.93 C665.76 536.04 667.47 537.06 669.14 538.11 C671.12 539.36 673.06 541.42 674.97 543.21 C676.95 545.06 678.79 547.30 680.80 549.04 C682.69 550.68 684.54 552.01 686.63 553.42 C688.89 554.93 691.44 556.56 693.92 557.79 C696.30 558.97 698.63 559.87 701.20 560.70 C703.96 561.59 707.03 562.16 709.95 562.89 C712.86 563.62 715.79 564.23 718.69 565.07 C721.62 565.93 724.56 566.80 727.43 567.99 C730.39 569.21 733.24 571.01 736.17 572.36 C739.07 573.68 742.05 574.58 744.92 576.00 C747.88 577.48 750.94 579.24 753.66 581.10 C756.27 582.89 758.49 585.09 760.95 586.93 C763.35 588.73 765.78 590.44 768.23 592.03 C770.63 593.59 773.12 595.15 775.52 596.40 C777.73 597.55 780.91 599.00 782.08 599.32 C782.48 599.43 782.66 599.63 782.91 599.42 C784.52 598.09 782.30 570.48 785.10 566.63 C786.07 565.30 787.37 565.65 788.74 565.17 C790.45 564.58 792.61 563.86 794.57 563.42 C796.50 562.99 798.46 562.50 800.40 562.55 C802.35 562.60 804.19 563.21 806.23 563.72 C808.54 564.29 811.07 565.29 813.52 565.90 C815.93 566.50 818.36 567.04 820.80 567.36 C823.22 567.67 825.66 567.80 828.09 567.80 C830.52 567.80 832.95 567.60 835.37 567.36 C837.81 567.12 840.24 566.75 842.66 566.34 C845.09 565.93 847.52 565.44 849.95 564.88 C852.38 564.32 854.83 563.78 857.23 562.99 C859.69 562.18 862.09 561.04 864.52 560.07 C866.95 559.10 869.37 558.13 871.80 557.16 C874.23 556.19 876.65 555.15 879.09 554.24 C881.51 553.35 883.93 552.50 886.38 551.77 C888.79 551.04 891.23 550.50 893.66 549.87 C896.09 549.24 898.52 548.59 900.95 547.98 C903.37 547.37 905.80 546.76 908.23 546.23 C910.66 545.70 913.51 545.17 915.52 544.77 C916.94 544.49 918.18 545.16 919.16 544.04 C922.22 540.56 919.45 512.73 921.56 508.09 C922.17 506.73 922.85 506.64 923.74 505.90 C924.91 504.94 926.74 504.21 928.11 502.99 C929.67 501.61 930.96 499.39 932.49 497.89 C933.89 496.50 935.21 495.21 936.86 494.24 C938.59 493.24 940.61 492.65 942.69 492.06 C944.96 491.41 947.43 491.07 949.97 490.60 C952.75 490.09 955.80 489.58 958.72 489.14 C961.63 488.71 964.54 488.27 967.46 487.98 C970.37 487.69 973.29 487.57 976.20 487.40 C979.12 487.23 981.82 487.08 984.95 486.96 C988.55 486.82 992.72 486.76 996.60 486.67 C1000.49 486.57 1004.37 486.45 1008.26 486.38 C1012.15 486.30 1016.03 486.28 1019.92 486.23 C1023.80 486.18 1027.69 486.13 1031.58 486.08 C1035.46 486.04 1039.35 485.96 1043.23 485.94 C1047.12 485.91 1052.26 488.40 1054.89 485.94 C1059.45 481.68 1054.81 455.58 1057.29 451.03 C1058.08 449.56 1059.18 449.33 1060.20 448.84 C1061.13 448.40 1062.19 448.56 1063.11 448.11 C1064.14 447.63 1064.95 446.69 1066.03 445.93 C1067.33 445.01 1068.76 443.67 1070.40 443.01 C1072.14 442.32 1074.17 442.13 1076.23 441.99 C1078.52 441.84 1080.89 442.05 1083.52 442.29 C1086.64 442.57 1090.44 443.46 1093.72 443.74 C1096.74 444.01 1099.54 444.03 1102.46 444.03 C1105.37 444.03 1108.08 443.85 1111.20 443.74 C1114.81 443.62 1118.76 443.40 1122.86 443.31 C1127.45 443.20 1132.57 443.21 1137.43 443.16 C1142.29 443.11 1147.15 443.06 1152.00 443.01 C1156.86 442.97 1161.72 442.92 1166.58 442.87 C1171.43 442.82 1177.38 442.60 1181.15 442.72 C1183.54 442.80 1185.22 443.10 1187.00 443.16 C1188.48 443.22 1190.10 442.56 1191.08 443.16 C1192.03 443.75 1192.38 445.10 1192.83 446.66 C1193.61 449.36 1193.70 454.43 1193.99 458.32 C1194.29 462.21 1194.29 466.10 1194.58 469.99 C1194.87 473.88 1195.26 477.77 1195.74 481.65 C1196.23 485.54 1196.81 489.43 1197.49 493.31 C1198.17 497.20 1198.86 501.11 1199.83 504.97 C1200.80 508.88 1201.84 513.17 1203.32 516.63 C1204.63 519.68 1206.10 522.59 1207.99 524.80 C1209.67 526.76 1211.64 528.59 1213.82 529.46 C1215.93 530.30 1218.41 530.20 1220.82 530.04 C1223.44 529.88 1226.16 528.77 1228.98 528.29 C1231.98 527.79 1235.02 527.33 1238.31 527.13 C1241.97 526.90 1246.23 527.13 1249.97 527.13 C1253.44 527.13 1256.48 527.07 1260.00 527.13 C1263.92 527.20 1268.12 527.44 1272.43 527.56 C1277.10 527.69 1282.15 527.78 1287.00 527.85 C1291.86 527.92 1296.72 527.97 1301.58 528.00 C1306.43 528.02 1311.64 528.00 1316.15 528.00 C1320.05 528.00 1325.10 526.36 1327.08 528.00 C1328.74 529.37 1328.04 532.57 1328.53 535.57 C1329.25 539.92 1329.67 547.10 1330.72 551.60 C1331.51 555.00 1332.86 558.58 1333.63 560.35 C1333.99 561.16 1334.07 561.34 1334.57 562.06 C1335.65 563.58 1338.14 567.03 1340.40 568.62 C1342.54 570.12 1345.21 571.05 1347.69 571.53 C1350.07 571.99 1352.44 571.68 1354.97 571.53 C1357.76 571.37 1360.59 570.75 1363.72 570.51 C1367.32 570.23 1371.27 570.15 1375.37 570.07 C1379.96 569.99 1385.09 570.07 1389.95 570.07 C1394.80 570.07 1399.66 570.05 1404.52 570.07 C1409.37 570.10 1414.23 570.17 1419.09 570.22 C1423.95 570.27 1428.80 570.34 1433.66 570.36 C1438.52 570.39 1443.32 570.36 1448.23 570.36 C1453.27 570.36 1458.43 570.36 1463.53 570.36" fill="none" stroke="#ff0000" stroke-width="3.4" stroke-linejoin="round"/>
<g font-family='"Liberation Sans", sans-serif' fill="#262626">
<text transform="translate(648.40 690.80)" font-size="36.00" text-anchor="middle">0</text>
<text transform="translate(852.10 690.80)" font-size="36.00" text-anchor="middle">30</text>
<text transform="translate(1055.80 690.80)" font-size="36.00" text-anchor="middle">60</text>
<text transform="translate(1259.50 690.80)" font-size="36.00" text-anchor="middle">90</text>
<text transform="translate(1463.20 690.80)" font-size="36.00" text-anchor="middle">120</text>
<text transform="translate(636.40 624.50)" font-size="36.00" text-anchor="end">0</text>
<text transform="translate(636.40 555.05)" font-size="36.00" text-anchor="end">0.05</text>
<text transform="translate(636.40 485.60)" font-size="36.00" text-anchor="end">0.1</text>
<text transform="translate(1055.30 741.80)" font-size="31.00" text-anchor="middle">Time (s)</text>
<text transform="translate(1055.80 783.00)" font-size="31.00" text-anchor="middle">(c)</text>
<text transform="translate(551.70 541.70) rotate(-90)" font-size="31.00" text-anchor="middle">UC (p.u.)</text>
</g>
<g stroke-width="4.4" fill="none">
<path d="M461.9 835.6 H551.1" stroke="#00ff00"/>
<path d="M729.9 835.6 H824.1" stroke="#000000"/>
<path d="M925.5 835.6 H1019.6" stroke="#0000ff"/>
<path d="M1303.2 835.6 H1397.9" stroke="#ff0000"/>
</g>
<g font-family='"Liberation Sans", sans-serif' fill="#000">
<text transform="translate(558.30 852.60) scale(1 1.073)" font-size="45.10">PD-PID</text>
<text transform="translate(830.50 852.60) scale(1 1.073)" font-size="45.10">PID</text>
<text transform="translate(1027.20 852.60) scale(1 1.073)" font-size="45.10">FOPI-FOPID</text>
<text transform="translate(1404.70 852.60) scale(1 1.073)" font-size="45.10">FOPID</text>
</g>
</svg>
</body></html>
